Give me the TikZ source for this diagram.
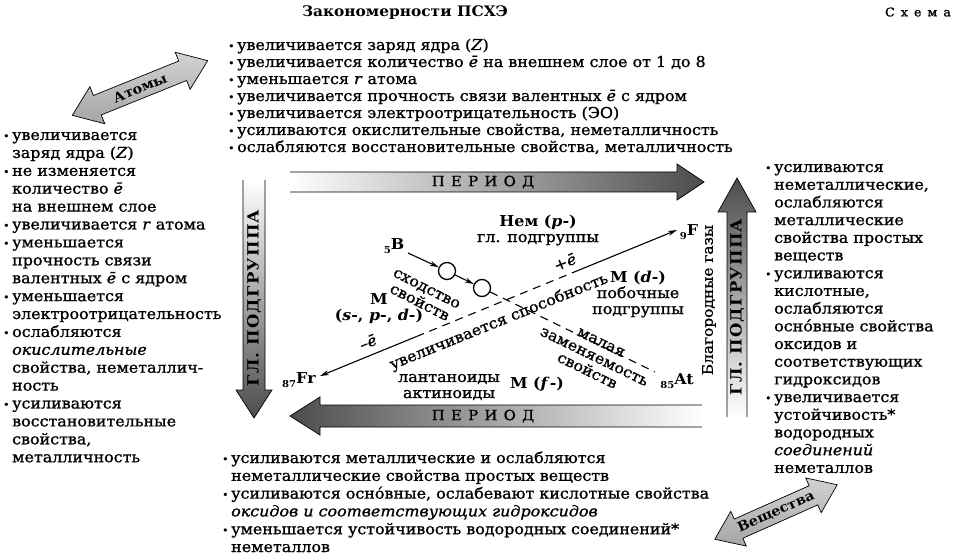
\documentclass[tikz,border=0pt]{standalone}
\usepackage{fontspec}
\setmainfont{DejaVu Serif}[FakeStretch=1.06,UprightFeatures={FakeBold=1.1},ItalicFeatures={FakeBold=1.1}]
\usetikzlibrary{arrows.meta,calc}
\newcommand\bul{\makebox[9pt][l]{\raisebox{0.5pt}{\fontsize{10}{10}\selectfont •}}}
\newcommand\ind{\hspace*{9pt}}
\newcommand\ee{\textit{ē}}
\newcommand\elm[2]{\textbf{\raisebox{-0.45ex}{\fontsize{9.5}{9.5}\selectfont #1}#2}}
\newcommand\plist[3]{\parbox[t]{#1}{\raggedright\fontsize{15}{#2}\selectfont #3}}
\begin{document}
\begin{tikzpicture}[x=1pt,y=-1pt,
  lst/.style={anchor=base west,inner sep=0pt},
  conn/.style={line width=1.1pt},
  dsh/.style={line width=1.1pt,dash pattern=on 8pt off 6pt},
  tipp/.style={-{Stealth[length=9pt,width=5pt]}},
  circ/.style={circle,draw,line width=1.3pt,minimum size=17pt,inner sep=0pt},
  lbl/.style={font=\fontsize{15}{16}\selectfont,align=center,inner sep=0pt},
  elem/.style={font=\fontsize{15}{16}\selectfont,inner sep=0pt},
  big/.style={line width=0.7pt},
  arrtext/.style={font=\bfseries\fontsize{13.5}{14}\selectfont,inner sep=0pt},
]
\fill[white] (0,0) rectangle (954,556);
\useasboundingbox (0,0) rectangle (954,556);

% titles
\node[font=\bfseries\fontsize{14.5}{17}\selectfont,inner sep=0pt] (title) at (405,13) {Закономерности ПСХЭ};
\node[font=\fontsize{12}{14}\selectfont\addfontfeatures{LetterSpace=50},inner sep=0pt] (schema) at (918,12) {Схема};

% lists
\node[lst] (top) at (228,50) {\plist{600pt}{17}{%
\bul увеличивается заряд ядра (\textit{Z})\\
\bul увеличивается количество \ee{} на внешнем слое от 1 до 8\\
\bul уменьшается \textit{r} атома\\
\bul увеличивается прочность связи валентных \ee{} с ядром\\
\bul увеличивается электроотрицательность (ЭО)\\
\bul усиливаются окислительные свойства, неметалличность\\
\bul ослабляются восстановительные свойства, металличность}};

\node[lst] (left) at (3,140) {\plist{240pt}{17.9}{%
\bul увеличивается\\
\ind заряд ядра (\textit{Z})\\
\bul не изменяется\\
\ind количество \ee\\
\ind на внешнем слое\\
\bul увеличивается \textit{r} атома\\
\bul уменьшается\\
\ind прочность связи\\
\ind валентных \ee{} с ядром\\
\bul уменьшается\\
\ind электроотрицательность\\
\bul ослабляются\\
\ind \textit{окислительные}\\
\ind свойства, неметаллич-\\
\ind ность\\
\bul усиливаются\\
\ind восстановительные\\
\ind свойства,\\
\ind металличность}};

\node[lst] (right) at (765,172) {\plist{200pt}{17.7}{%
\bul усиливаются\\
\ind неметаллические,\\
\ind ослабляются\\
\ind металлические\\
\ind свойства простых\\
\ind веществ\\
\bul усиливаются\\
\ind кислотные,\\
\ind ослабляются\\
\ind осно́вные свойства\\
\ind оксидов и\\
\ind соответствующих\\
\ind гидроксидов\\
\bul увеличивается\\
\ind устойчивость*\\
\ind водородных\\
\ind \textit{соединений}\\
\ind неметаллов}};

\node[lst] (bottom) at (222,463) {\plist{560pt}{17.8}{%
\bul усиливаются металлические и ослабляются\\
\ind неметаллические свойства простых веществ\\
\bul усиливаются осно́вные, ослабевают кислотные свойства\\
\ind \textit{оксидов и соответствующих гидроксидов}\\
\bul уменьшается устойчивость водородных соединений*\\
\ind неметаллов}};

% double arrows
\begin{scope}[shift={(140,88)},rotate=22]
\shade[big,draw=black,top color=gray!35,bottom color=gray!70] (-73,0) -- (-46,-20) -- (-46,-10.5) -- (46,-10.5) -- (46,-20) -- (73,0) -- (46,20) -- (46,10.5) -- (-46,10.5) -- (-46,20) -- cycle;
\node[arrtext,transform shape] (atomy) at (0,0) {Атомы};
\end{scope}
\begin{scope}[shift={(776,512)},rotate=24]
\shade[big,draw=black,top color=gray!35,bottom color=gray!70] (-67,0) -- (-41,-19) -- (-41,-10.5) -- (41,-10.5) -- (41,-19) -- (67,0) -- (41,19) -- (41,10.5) -- (-41,10.5) -- (-41,19) -- cycle;
\node[arrtext,transform shape] (vesch) at (0,0) {Вещества};
\end{scope}

% period arrows
\shade[left color=white,middle color=gray!30,right color=black!70] (290,172) -- (677,172) -- (677,164) -- (704,182) -- (677,200) -- (677,192) -- (290,192) -- cycle;
\draw[big] (290,172) -- (677,172) -- (677,164) -- (704,182) -- (677,200) -- (677,192) -- (290,192);
\node[font=\fontsize{14}{16}\selectfont\addfontfeatures{LetterSpace=45},inner sep=0pt] (per1) at (483,182) {ПЕРИОД};

\shade[right color=white,middle color=gray!35,left color=black!70] (702,405) -- (320,405) -- (320,397) -- (290,416) -- (320,435) -- (320,427) -- (702,427) -- cycle;
\draw[big] (702,405) -- (320,405) -- (320,397) -- (290,416) -- (320,435) -- (320,427) -- (702,427);
\node[font=\fontsize{14}{16}\selectfont\addfontfeatures{LetterSpace=45},inner sep=0pt] (per2) at (483,416) {ПЕРИОД};

% group arrows
\shade[top color=white,middle color=gray!40,bottom color=black!70] (243,180) -- (243,390) -- (236,390) -- (254,418) -- (272,390) -- (265,390) -- (265,180) -- cycle;
\draw[big] (243,180) -- (243,390) -- (236,390) -- (254,418) -- (272,390) -- (265,390) -- (265,180);
\node[font=\bfseries\fontsize{15.5}{18}\selectfont\addfontfeatures{LetterSpace=8},rotate=90,inner sep=0pt] (gr1) at (254,298) {ГЛ. ПОДГРУППА};

\shade[bottom color=white,middle color=gray!40,top color=black!70] (727,417) -- (727,212) -- (718,212) -- (737,178) -- (756,212) -- (747,212) -- (747,417) -- cycle;
\draw[big] (727,417) -- (727,212) -- (718,212) -- (737,178) -- (756,212) -- (747,212) -- (747,417);
\node[font=\bfseries\fontsize{15.5}{18}\selectfont\addfontfeatures{LetterSpace=8},rotate=90,inner sep=0pt] (gr2) at (737,307) {ГЛ. ПОДГРУППА};
\node[font=\fontsize{14.5}{15}\selectfont,rotate=90,inner sep=0pt] (gases) at (709,300) {Благородные газы};

% inner diagram
\node[elem] (B) at (394,246) {\elm{5}{B}};
\node[elem] (F) at (689,232) {\elm{9}{F}};
\node[elem] (Fr) at (299,380) {\elm{87}{Fr}};
\node[elem] (At) at (677,381) {\elm{85}{At}};
\node[circ] (c1) at (447,271) {};
\node[circ] (c2) at (482,288) {};
\coordinate (bt) at (408,253);
\coordinate (att) at (655,372);
\coordinate (frt) at (320,376);
\coordinate (ft) at (677,230);

\draw[conn,tipp] (bt) -- (c1);
\draw[conn,tipp] (c1) -- (c2);
\draw[dsh] (c2) -- (att);
\draw[conn,tipp] ($(frt)!0.27!(ft)$) -- (frt);
\draw[dsh] ($(frt)!0.27!(ft)$) -- ($(frt)!0.72!(ft)$);
\draw[conn,tipp] ($(frt)!0.72!(ft)$) -- (ft);

\node[lbl] (nem) at (538,230) {\textbf{Нем (\textit{p}-)}\\гл. подгруппы};
\node[lbl] (md) at (638,294) {\textbf{М (\textit{d}-)}\\побочные\\подгруппы};
\node[lbl] (mspd) at (379,309) {\textbf{М}\\\textbf{(\textit{s}-, \textit{p}-, \textit{d}-)}};
\node[lbl] (lant) at (449,387) {лантаноиды\\актиноиды};
\node[lbl] (mf) at (537,384) {\textbf{М (\textit{f}-)}};
\node[lbl,rotate=-27] (sx) at (423,296) {сходство\\свойств};
\node[lbl,rotate=-26] (mz) at (594,357) {малая\\заменяемость\\свойств};
\node[lbl,rotate=22] (sp) at (499,322) {увеличивается способность};
\node[lbl,rotate=22] (pe) at (565,262) {+\ee};
\node[lbl,rotate=22] (me) at (368,342) {–\ee};
\end{tikzpicture}
\end{document}
